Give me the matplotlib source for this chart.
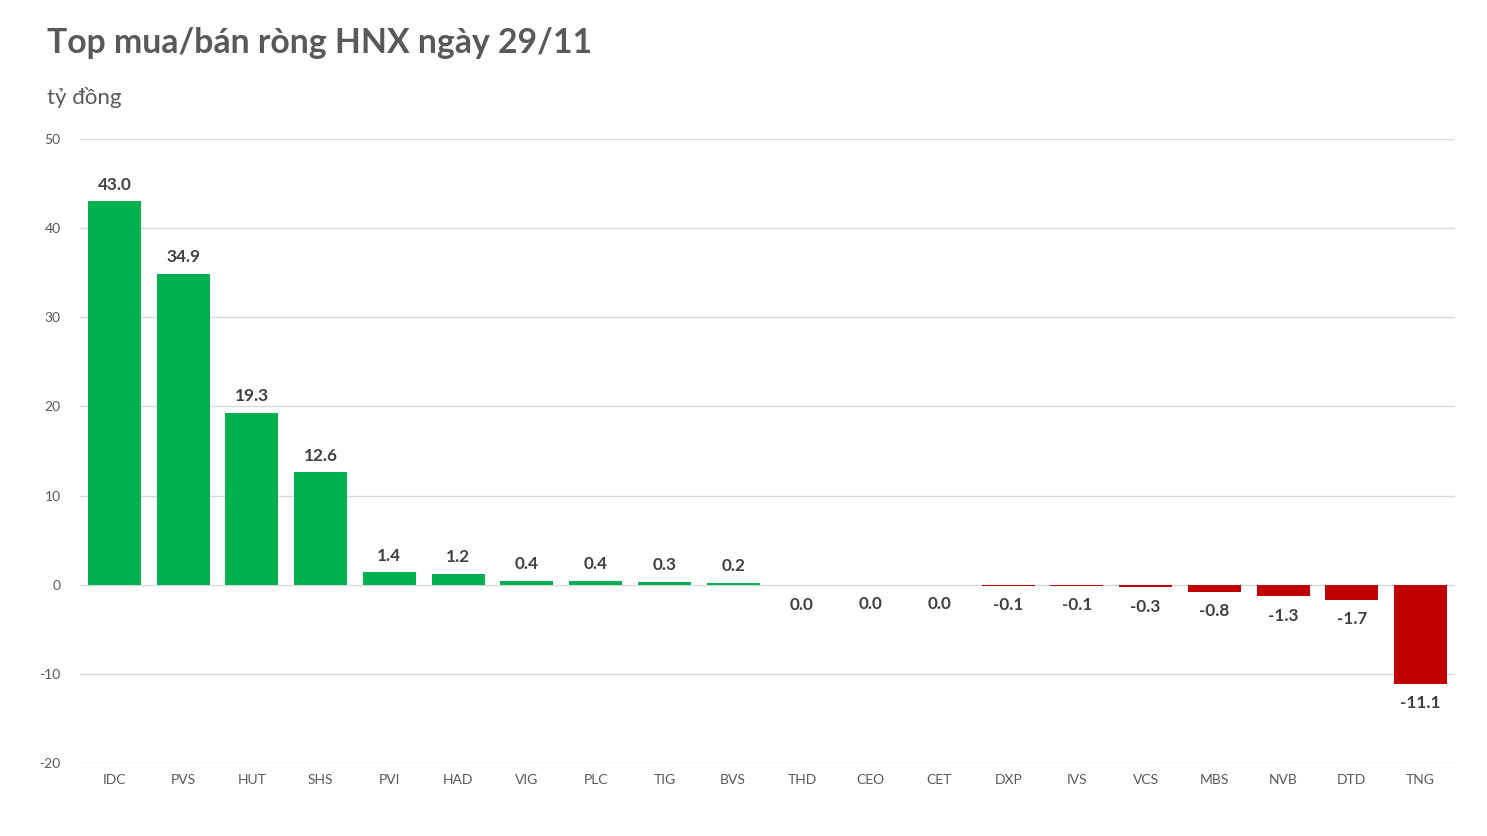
import matplotlib
matplotlib.use("Agg")
import matplotlib.pyplot as plt

categories = ["IDC", "PVS", "HUT", "SHS", "PVI", "HAD", "VIG", "PLC", "TIG", "BVS",
              "THD", "CEO", "CET", "DXP", "IVS", "VCS", "MBS", "NVB", "DTD", "TNG"]
values = [43.0, 34.9, 19.3, 12.6, 1.4, 1.2, 0.4, 0.4, 0.3, 0.2,
          -0.04, -0.03, -0.02, -0.1, -0.1, -0.3, -0.8, -1.3, -1.7, -11.1]
yticks = [-20, -10, 0, 10, 20, 30, 40, 50]
title = "Top mua/bán ròng HNX ngày 29/11"
unit = "tỷ đồng"

GREEN = "#00B050"
RED = "#C00000"
TXT = "#595959"

plt.rcParams["font.family"] = ["Lato", "DejaVu Sans"]

fig = plt.figure(figsize=(14.87, 8.36), dpi=100)
ax = fig.add_axes([80/1487, 73/836, 1375/1487, 624/836])

x = list(range(len(categories)))
colors = [GREEN if v >= 0 else RED for v in values]
ax.bar(x, values, width=0.77, color=colors, zorder=3)

ax.set_xlim(-0.5, len(categories) - 0.5)
ax.set_ylim(-20, 50)
ax.set_yticks(yticks)
ax.set_yticklabels([str(t) for t in yticks], fontsize=10, color=TXT)
ax.set_xticks(x)
ax.set_xticklabels(categories, fontsize=10, color=TXT)
ax.tick_params(axis="both", length=0)
ax.tick_params(axis="y", pad=14)
ax.tick_params(axis="x", pad=8)
ax.grid(axis="y", color="#D9D9D9", linewidth=1, zorder=0)
for s in ax.spines.values():
    s.set_visible(False)


def fmt(v):
    s = f"{v:.1f}"
    return "0.0" if s == "-0.0" else s


for xi, v in zip(x, values):
    if v >= 0:
        ax.annotate(fmt(v), (xi, v), xytext=(0, 12), textcoords="offset points",
                    ha="center", va="center", fontsize=12.3, fontweight="bold", color="#404040")
    else:
        ax.annotate(fmt(v), (xi, v), xytext=(0, -14), textcoords="offset points",
                    ha="center", va="center", fontsize=12.3, fontweight="bold", color="#404040")

fig.text(47/1487, 1 - 43/836, title, fontsize=24.3, fontweight="bold", color=TXT,
         ha="left", va="center")
fig.text(47/1487, 1 - 97/836, unit, fontsize=16, color=TXT, ha="left", va="center")

fig.savefig("out.png", dpi=100, facecolor="white")
